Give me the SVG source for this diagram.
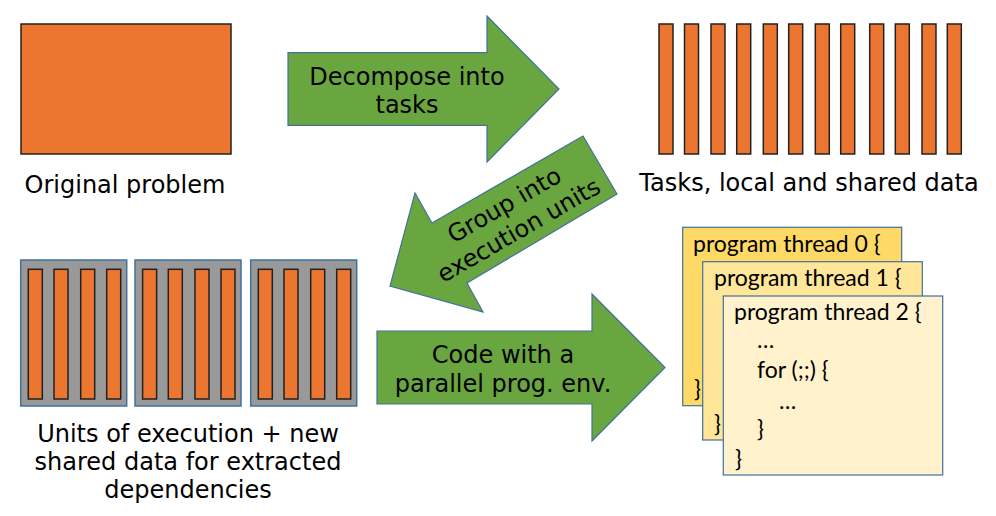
<svg xmlns="http://www.w3.org/2000/svg" width="996" height="516" viewBox="0 0 996 516">
<style>
.lbl{font-family:"DejaVu Sans",sans-serif;font-size:24px;fill:#000;text-anchor:middle}
.code{font-family:"Lato","Liberation Sans",sans-serif;font-size:23px;fill:#000}
.task{fill:#EC7530;stroke:#222;stroke-width:1.5}
.arrow{fill:#6AA640;stroke:#41719C;stroke-width:1.2}
.unit{fill:#999;stroke:#41719C;stroke-width:1.5}
.page{stroke:#41719C;stroke-width:1.2}
</style>
<defs>
<g id="unitBars">
<rect class="task" x="7.6" y="9.3" width="14" height="129.7"/>
<rect class="task" x="33.3" y="9.3" width="14" height="129.7"/>
<rect class="task" x="60" y="9.3" width="14" height="129.7"/>
<rect class="task" x="86" y="9.3" width="14" height="129.7"/>
</g>
</defs>

<g id="original-problem">
<rect class="task" x="21" y="24" width="210" height="130"/>
<text class="lbl" x="125" y="193">Original problem</text>
</g>

<g id="tasks">
<rect class="task" x="659" y="24" width="14" height="130"/>
<rect class="task" x="684.5" y="24" width="14" height="130"/>
<rect class="task" x="711" y="24" width="14" height="130"/>
<rect class="task" x="736.7" y="24" width="14" height="130"/>
<rect class="task" x="763.3" y="24" width="14" height="130"/>
<rect class="task" x="788.7" y="24" width="14" height="130"/>
<rect class="task" x="815.3" y="24" width="14" height="130"/>
<rect class="task" x="840.7" y="24" width="14" height="130"/>
<rect class="task" x="869.7" y="24" width="14" height="130"/>
<rect class="task" x="895.3" y="24" width="14" height="130"/>
<rect class="task" x="922" y="24" width="14" height="130"/>
<rect class="task" x="947.3" y="24" width="14" height="130"/>
<text class="lbl" x="809" y="191">Tasks, local and shared data</text>
</g>

<g id="units">
<rect class="unit" x="20.7" y="260" width="106" height="146"/>
<use href="#unitBars" x="20.7" y="260"/>
<rect class="unit" x="135" y="260" width="106" height="146"/>
<use href="#unitBars" x="135" y="260"/>
<rect class="unit" x="250.7" y="260" width="106" height="146"/>
<use href="#unitBars" x="250.7" y="260"/>
<text class="lbl" x="188" y="442">Units of execution + new</text>
<text class="lbl" x="188" y="470">shared data for extracted</text>
<text class="lbl" x="188" y="498">dependencies</text>
</g>

<g id="code">
<rect class="page" x="682.7" y="227.3" width="219" height="178.4" fill="#FFD966"/>
<text class="code" x="693" y="252">program thread 0 {</text>
<text class="code" x="694" y="397">}</text>
<rect class="page" x="702.7" y="261.7" width="219.6" height="178.3" fill="#FFE699"/>
<text class="code" x="714" y="286">program thread 1 {</text>
<text class="code" x="714" y="432">}</text>
<rect class="page" x="723.3" y="296" width="219.4" height="179" fill="#FFF2CC"/>
<text class="code" x="734" y="320">program thread 2 {</text>
<text class="code" x="757" y="348">…</text>
<text class="code" x="757" y="378">for (;;) {</text>
<text class="code" x="779" y="409">…</text>
<text class="code" x="757" y="437">}</text>
<text class="code" x="735" y="467">}</text>
</g>

<g id="connectors">
<g id="decompose">
<polygon class="arrow" points="288,52.7 487,52.7 487,16 559,89 487,162 487,125.3 288,125.3"/>
<text class="lbl" x="407" y="85">Decompose into</text>
<text class="lbl" x="407" y="113">tasks</text>
</g>
<g id="group">
<polygon class="arrow" points="583,136 617,194 467,283 483,312 390,286 415,193 432,223"/>
<g transform="translate(510.8,216.5) rotate(-30)">
<text class="lbl" x="0" y="-5">Group into</text>
<text class="lbl" x="0" y="24">execution units</text>
</g>
</g>
<g id="codewith">
<polygon class="arrow" points="377,331 592,331 592,294 665,367.5 592,441 592,404 377,404"/>
<text class="lbl" x="503" y="363">Code with a</text>
<text class="lbl" x="503" y="392">parallel prog. env.</text>
</g>
</g>
</svg>
